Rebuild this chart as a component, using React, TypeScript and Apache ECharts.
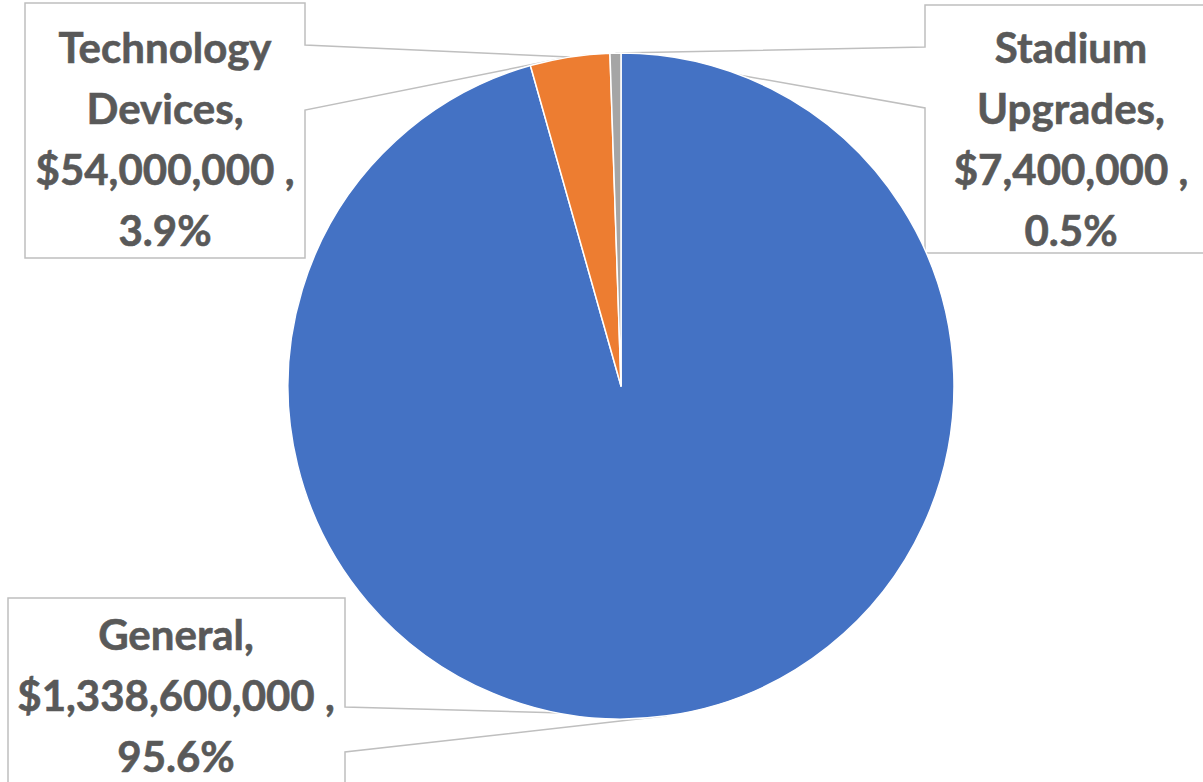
import React, { useEffect, useRef } from "react";
import * as echarts from "echarts";

const categories = ["General", "Technology Devices", "Stadium Upgrades"];
const values = [1338600000, 54000000, 7400000];
const colors = ["#4472C4", "#ED7D31", "#A5A5A5"];

// layout (not data)
const CENTER = [621, 386];
const RADIUS = 333;
const callouts = [
  { box: [8, 598, 345, 800], side: "right", wedge: [707, 752], text: [176, 695] },
  { box: [25, 3, 305, 258], side: "right", wedge: [45, 110], text: [165, 138] },
  { box: [925, 5, 1217, 253], side: "left", wedge: [47, 108], text: [1071, 138] },
];

function tipFor(i: number): number[] {
  const total = values.reduce((a, b) => a + b, 0);
  let cum = 0;
  for (let k = 0; k < i; k++) cum += values[k];
  const frac = (cum + values[i] / 2) / total;
  const th = frac * Math.PI * 2;
  return [CENTER[0] + RADIUS * Math.sin(th), CENTER[1] - RADIUS * Math.cos(th)];
}

function calloutPoints(i: number): number[][] {
  const c = callouts[i];
  const [x0, y0, x1, y1] = c.box;
  const [w0, w1] = c.wedge;
  const tip = tipFor(i);
  if (c.side === "right") {
    return [[x0, y0], [x1, y0], [x1, w0], tip, [x1, w1], [x1, y1], [x0, y1]];
  }
  return [[x0, y0], [x1, y0], [x1, y1], [x0, y1], [x0, w1], tip, [x0, w0]];
}

function fmtMoney(v: number): string {
  return "$" + v.toLocaleString("en-US");
}

export default function App() {
  const ref = useRef<HTMLDivElement>(null);
  useEffect(() => {
    if (!ref.current) return;
    const chart = echarts.init(ref.current, undefined, { renderer: "svg" });
    chart.setOption({
      animation: false,
      backgroundColor: "#ffffff",
      graphic: categories.map((_, i) => ({
        type: "polygon",
        z: 0,
        shape: { points: calloutPoints(i) },
        style: { fill: "#ffffff", stroke: "#BFBFBF", lineWidth: 1.5 },
        silent: true,
      })),
      series: [
        {
          type: "pie",
          center: CENTER,
          radius: RADIUS,
          startAngle: 90,
          clockwise: true,
          avoidLabelOverlap: false,
          percentPrecision: 1,
          emphasis: { disabled: true },
          itemStyle: { borderColor: "#ffffff", borderWidth: 1.5 },
          label: {
            show: true,
            position: "outside",
            color: "#595959",
            fontFamily: "Lato",
            fontWeight: "bold",
            fontSize: 42,
            lineHeight: 61,
            align: "center",
            textBorderColor: "#595959",
            textBorderWidth: 0.6,
            formatter: (p: any) =>
              p.name.replace(" ", "\n") + ",\n" + fmtMoney(p.value) + " ,\n" + p.percent.toFixed(1) + "%",
          },
          labelLine: { show: false },
          labelLayout: (params: any) => {
            const c = callouts[params.dataIndex];
            return { x: c.text[0], y: c.text[1], align: "center", verticalAlign: "middle" };
          },
          data: categories.map((name, i) => ({
            name,
            value: values[i],
            itemStyle: { color: colors[i] },
          })),
        },
      ],
    });
    return () => chart.dispose();
  }, []);
  return (
    <div
      ref={ref}
      style={{ position: "fixed", left: 0, top: 0, width: 1203, height: 782 }}
    />
  );
}
